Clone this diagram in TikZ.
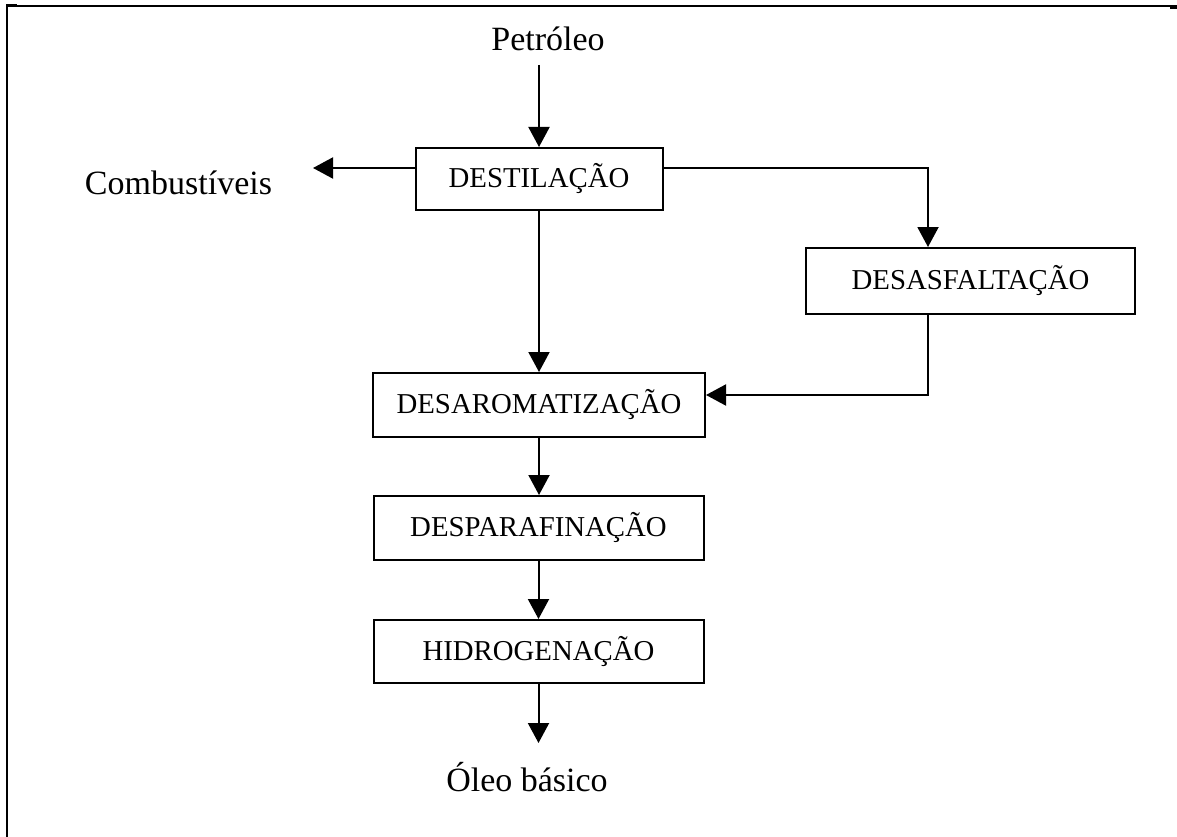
\documentclass[tikz,border=0pt]{standalone}
\usepackage{fontspec}
\setmainfont{Liberation Serif}
\usetikzlibrary{arrows.meta}
\begin{document}
\begin{tikzpicture}[x=1pt,y=1pt,
  stage/.style={draw,line width=2pt,minimum width=#1,minimum height=64pt,
    inner sep=0pt,font=\fontsize{28.8}{34}\selectfont},
  label/.style={anchor=base,inner sep=0pt,font=\fontsize{34}{40}\selectfont},
  flow/.style={line width=2pt,-{Triangle[width=21pt,length=20pt]}},
  frame/.style={line width=2pt}]
\useasboundingbox (0,0) rectangle (1177,-837);

% outer frame (left and top rules)
\draw[frame] (7,-837) -- (7,-6) -- (1177,-6);
\fill (6,-4.5) rectangle (17,-7.5);
\fill (1170,-5) rectangle (1177,-9.5);

% process stages
\node[stage=247pt,minimum height=62pt] (dest)    at (539,-179) {DESTILAÇÃO};
\node[stage=329pt,minimum height=66pt] (desasf)  at (970.5,-281) {DESASFALTAÇÃO};
\node[stage=332pt] (desarom) at (539,-405)   {DESAROMATIZAÇÃO};
\node[stage=330pt] (despar)  at (538.5,-528)   {DESPARAFINAÇÃO};
\node[stage=330pt,minimum height=63pt] (hidro)   at (538.5,-651.5) {HIDROGENAÇÃO};

% feed and products
\node[label] (pet)  at (548,-51)   {Petróleo};
\node[label] (comb) at (178.5,-195) {Combustíveis};
\node[label] (oleo) at (527,-791)  {Óleo básico};

% connection points
\coordinate (petout)  at (539,-65);
\coordinate (combin)  at (313,-168);
\coordinate (oleoin)  at (539,-743);

% flows
\draw[flow] (petout) -- (petout |- dest.north);
\draw[flow] ([yshift=11pt]dest.west) -- (combin);
\draw[flow] ([yshift=11pt]dest.east) -| ([xshift=-42.5pt]desasf.north);
\draw[flow] (dest.south) -- (dest.south |- desarom.north);
\draw[flow] ([xshift=-42.5pt]desasf.south) |- ([yshift=10pt]desarom.east);
\draw[flow] (desarom.south) -- (desarom.south |- despar.north);
\draw[flow] (despar.south) -- (despar.south |- hidro.north);
\draw[flow] (hidro.south) -- (hidro.south |- oleoin);
\end{tikzpicture}
\end{document}
